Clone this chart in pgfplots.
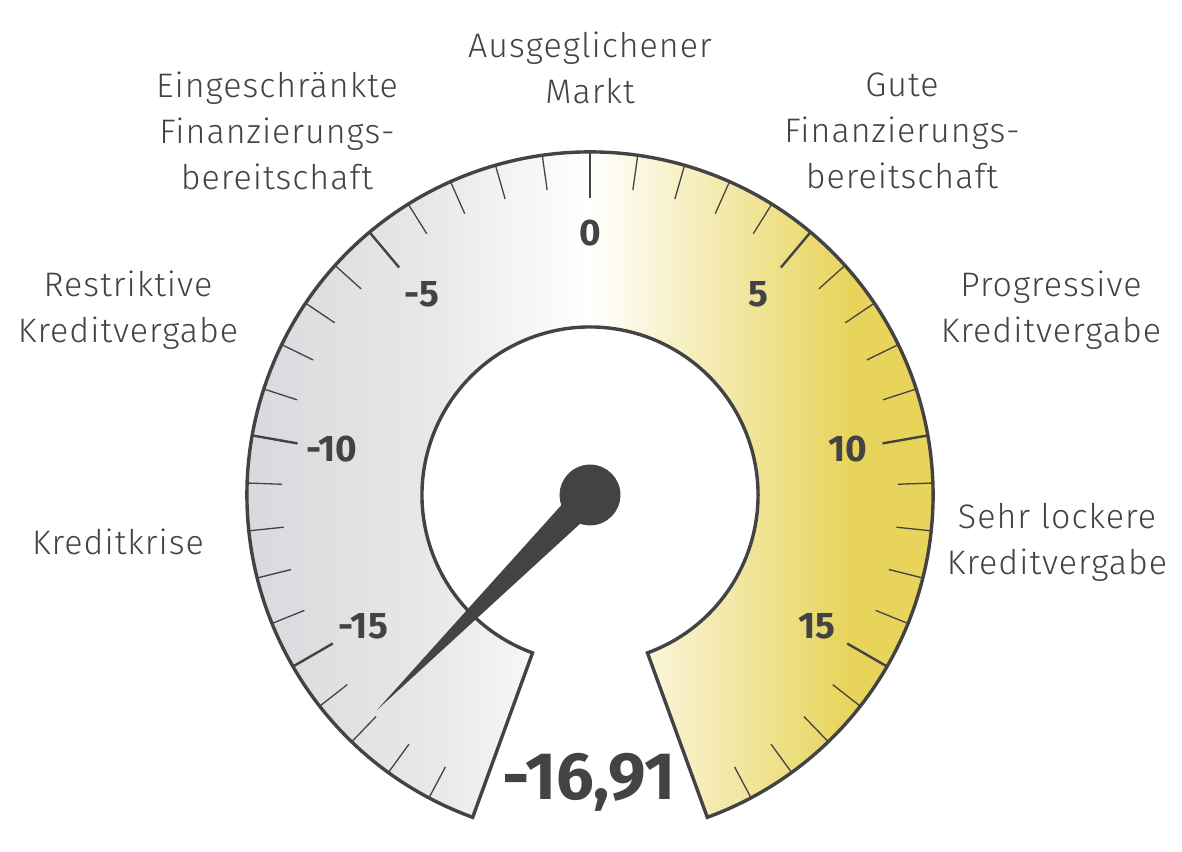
\documentclass[border=0pt]{standalone}
\usepackage{pgfplots}
\pgfplotsset{compat=1.18}
\usepackage{fontspec}
\setmainfont{Fira Sans}[UprightFont=* Light, BoldFont=* Bold]
\newfontfamily\lab{Fira Sans Light}[LetterSpace=3]

\definecolor{ink}{HTML}{434345}
\definecolor{gleft}{HTML}{D8D9DC}
\definecolor{gmid}{HTML}{E7E8E9}
\definecolor{yel}{HTML}{E8D45A}
% gauge band: grey on the left, white at 0, yellow on the right
\pgfdeclarehorizontalshading{gaugefill}{100bp}{color(0bp)=(gleft); color(25bp)=(gleft); color(38.4bp)=(gmid); color(50bp)=(white); color(68.9bp)=(yel); color(75bp)=(yel); color(100bp)=(yel)}

\begin{document}
\begin{tikzpicture}
% one unit = one pixel of the reference, centre of the dial at the origin
\begin{scope}[shift={(295pt,178pt)}, x=0.5pt, y=0.5pt]
\path (-590,-356) rectangle (592,495);

\begin{scope}
\clip (250:343) arc[start angle=250, end angle=-70, radius=171.5pt]
  -- (-70:168) arc[start angle=-70, end angle=250, radius=84pt] -- cycle;
\shade[shading=gaugefill] (-344,-344) rectangle (344,344);
\end{scope}

% scale -20 .. 20, 8 degrees per unit
\foreach \v in {-19,...,19} {
  \pgfmathsetmacro\a{90-8*\v}
  \draw[ink, line width=0.65pt] (\a:343) -- (\a:308);
}
\foreach \v in {-15,-10,...,15} {
  \pgfmathsetmacro\a{90-8*\v}
  \draw[ink, line width=1.2pt] (\a:343) -- (\a:297);
  \node[text=ink, font=\bfseries\fontsize{18.5}{18.5}\selectfont] at (\a:262) {\v};
}

\draw[ink, line width=1.7pt] (250:343) arc[start angle=250, end angle=-70, radius=171.5pt]
  -- (-70:168) arc[start angle=-70, end angle=250, radius=84pt] -- cycle;

\begin{scope}[every node/.style={text=ink, align=center, font=\lab\fontsize{17}{23}\selectfont}]
\node at (0,427.5) {Ausgeglichener\\Markt};
\node at (-313,364) {Eingeschränkte\\Finanzierungs-\\bereitschaft};
\node at (312,364) {Gute\\Finanzierungs-\\bereitschaft};
\node at (-462,185) {Restriktive\\Kreditvergabe};
\node at (461,185) {Progressive\\Kreditvergabe};
\node at (-472,-47) {Kreditkrise};
\node at (467,-47) {Sehr lockere\\Kreditvergabe};
\end{scope}
\node[text=ink, font=\bfseries\fontsize{33.5}{33.5}\selectfont] at (-1,-287) {-16,91};
\end{scope}

\begin{axis}[
    at={(0,0)}, anchor=south west,
    x=0.5pt, y=0.5pt,
    xmin=-590, xmax=592,
    ymin=-356, ymax=495,
    hide axis,
    clip=false
]
% needle for -16.91 (angle 225.28 deg)
\addplot[draw=none, fill=ink] coordinates {(-213.3,-215.2) (-10.3,10.2) (10.3,-10.2)} -- cycle;
\addplot[only marks, mark=*, mark size=15pt, color=ink, mark options={fill=ink}] coordinates {(0,0)};
\end{axis}
\end{tikzpicture}
\end{document}
